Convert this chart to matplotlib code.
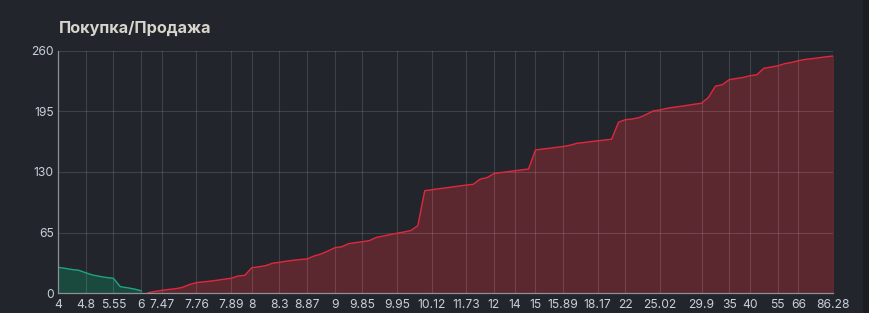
import matplotlib.pyplot as plt
import numpy as np

# bids (green) then asks (red), one value per price level on a category axis
bid_depth = [27.9, 26.8, 25.5, 24.7, 22.0, 19.6, 18.2, 16.9, 16.1, 7.1, 6.0, 4.6, 2.8]
ask_depth = [0.6, 1.9, 3.2, 4.1, 4.9, 6.4, 9.4, 11.4, 12.3, 13.0,
             14.0, 15.1, 16.1, 18.5, 19.3, 27.4, 28.4, 29.6, 32.2, 33.2,
             34.4, 35.4, 36.2, 36.8, 40.0, 42.1, 45.3, 48.8, 49.9, 53.2,
             54.3, 55.3, 56.5, 59.9, 61.4, 62.9, 64.4, 65.7, 67.3, 72.5,
             110.0, 111.0, 112.0, 113.0, 114.0, 115.0, 116.0, 116.8, 122.3, 124.0,
             128.3, 129.4, 130.3, 131.3, 132.3, 133.2, 153.6, 154.6, 155.4, 156.4,
             157.3, 158.7, 160.8, 161.6, 162.6, 163.4, 164.3, 165.1, 183.3, 186.1,
             186.8, 188.4, 191.6, 195.4, 196.5, 198.3, 199.4, 200.4, 201.5, 202.7,
             203.7, 210.0, 222.0, 223.6, 229.0, 230.2, 231.3, 233.2, 234.2, 241.2,
             242.4, 243.8, 246.1, 247.4, 249.3, 250.7, 251.5, 252.5, 253.5, 254.3]

tick_pos = [0, 4, 8, 12, 15, 20, 25, 28, 32, 36, 40, 44, 49, 54, 59, 63, 66, 69,
            73, 78, 82, 87, 93, 97, 100, 104, 107, 112]
tick_labels = ['4', '4.8', '5.55', '6', '7.47', '7.76', '7.89', '8', '8.3', '8.87',
               '9', '9.85', '9.95', '10.12', '11.73', '12', '14', '15', '15.89',
               '18.17', '22', '25.02', '29.9', '35', '40', '55', '66', '86.28']
y_ticks = [0, 65, 130, 195, 260]

bg = '#22252b'
txt = '#c7d0d9'

plt.rcParams['font.family'] = ['Inter', 'DejaVu Sans']

fig = plt.figure(figsize=(8.7, 3.13), dpi=100, facecolor=bg)
# darker strip on the right edge of the panel
fig.patches.append(plt.Rectangle((863 / 870, 0), 1, 1, transform=fig.transFigure,
                                 color='#1b1d22', zorder=0))
ax = fig.add_axes([58 / 870, 19.7 / 313, 775 / 870, 242.6 / 313])
ax.set_facecolor(bg)

n_bid = len(bid_depth)
xb = np.arange(n_bid)
xa = np.arange(n_bid, n_bid + len(ask_depth))

ax.fill_between(xb, bid_depth, 0, color='#1a4a3d', zorder=1)
ax.plot(xb, bid_depth, color='#1fa383', lw=1.0, zorder=3)
ax.fill_between(xa, ask_depth, 0, color='#5c2830', zorder=1)
ax.plot(xa, ask_depth, color='#e0283c', lw=1.0, zorder=3)

ax.set_xlim(0, n_bid + len(ask_depth) - 1)
ax.set_ylim(0, 260)
ax.set_xticks(tick_pos)
ax.set_xticklabels(tick_labels)
ax.set_yticks(y_ticks)
ax.tick_params(colors=txt, labelsize=8.7, length=0, pad=3)
ax.tick_params(axis='x', pad=4)

ax.grid(True, color='#ffffff', alpha=0.13, lw=0.8, zorder=2)
ax.set_axisbelow(False)
for s in ['top', 'right']:
    ax.spines[s].set_visible(False)
for s in ['left', 'bottom']:
    ax.spines[s].set_color('#8e9096')
    ax.spines[s].set_linewidth(0.9)
    ax.spines[s].set_zorder(4)

fig.text(59 / 870, 1 - 28 / 313, 'Покупка/Продажа', color='#d8d4cc',
         fontsize=11.7, fontweight='bold', va='center', ha='left')

fig.savefig('out.png', dpi=100, facecolor=bg)
